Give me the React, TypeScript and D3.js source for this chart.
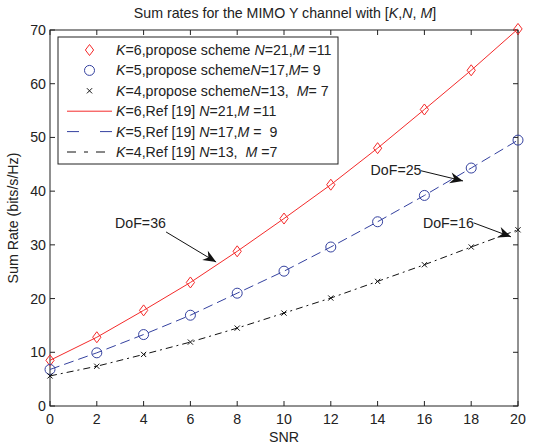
import React from "react";
import * as d3 from "d3";

const snr = [0, 2, 4, 6, 8, 10, 12, 14, 16, 18, 20];
const k6 = [8.5, 12.8, 17.8, 23.0, 28.8, 34.9, 41.2, 48.0, 55.2, 62.5, 70.2];
const k5 = [6.8, 9.9, 13.3, 16.9, 21.0, 25.1, 29.6, 34.3, 39.2, 44.3, 49.5];
const k4 = [5.6, 7.4, 9.6, 11.9, 14.5, 17.3, 20.1, 23.2, 26.3, 29.6, 32.8];
const xTicks = [0, 2, 4, 6, 8, 10, 12, 14, 16, 18, 20];
const yTicks = [0, 10, 20, 30, 40, 50, 60, 70];

// annotations in data units
const annLabels = ["DoF=36", "DoF=25", "DoF=16"];
const annText = [[2.78, 34.1], [13.7, 43.9], [15.94, 34.1]];
const annStart = [[4.96, 32.4], [15.85, 43.8], [18.1, 34.1]];
const annTip = [[7.1, 26.8], [17.65, 41.9], [19.7, 31.5]];

const RED = "#f42a2a";
const BLUE = "#34419f";
const BLACK = "#111";
const FONT = "'Liberation Sans', Arial, Helvetica, sans-serif";
const FS = 14.2;

export default function App() {
  const W = 534, H = 445;
  const left = 50, right = 518, top = 30, bottom = 406;
  const x = d3.scaleLinear().domain([0, 20]).range([left, right]);
  const y = d3.scaleLinear().domain([0, 70]).range([bottom, top]);
  const line = d3.line<number>().x((_, i) => x(snr[i])).y((d) => y(d));

  const diamond = (cx: number, cy: number, r = 5.5) =>
    `M${cx},${cy - r}L${cx + r * 0.75},${cy}L${cx},${cy + r}L${cx - r * 0.75},${cy}Z`;
  const cross = (cx: number, cy: number, r = 2.6) =>
    `M${cx - r},${cy - r}L${cx + r},${cy + r}M${cx - r},${cy + r}L${cx + r},${cy - r}`;

  const arrowHead = (x1: number, y1: number, x2: number, y2: number) => {
    const ang = Math.atan2(y2 - y1, x2 - x1);
    const L = 13, Wd = 5.5, back = 9;
    const ux = Math.cos(ang), uy = Math.sin(ang);
    const px = -uy, py = ux;
    const bx = x2 - ux * L, by = y2 - uy * L;
    const nx = x2 - ux * back, ny = y2 - uy * back;
    return `M${x2},${y2}L${bx + px * Wd},${by + py * Wd}L${nx},${ny}L${bx - px * Wd},${by - py * Wd}Z`;
  };

  const legendX = 58, legendY = 37, legendW = 280, legendH = 127;
  const rowY = (i: number) => legendY + 13 + i * 20.4;
  const symX1 = 67, symX2 = 112, symC = 89.5, txtX = 116;

  const it = (s: string) => <tspan fontStyle="italic">{s}</tspan>;
  const lt = (i: number, content: React.ReactNode) => (
    <text x={txtX} y={rowY(i) + 5} fontSize={FS} fontFamily={FONT} fill="#222" xmlSpace="preserve" style={{ whiteSpace: "pre" }}>
      {content}
    </text>
  );

  return (
    <svg width={W} height={H} style={{ position: "absolute", left: 0, top: 0, background: "#fff" }} fontFamily={FONT}>
      <rect x={0} y={0} width={W} height={H} fill="#fff" />
      <text x={285} y={18} fontSize={FS} textAnchor="middle" fill="#222">
        Sum rates for the MIMO Y channel with [{it("K")},{it("N")}, {it("M")}]
      </text>

      <rect x={left} y={top} width={right - left} height={bottom - top} fill="none" stroke="#222" strokeWidth={1} />
      {xTicks.map((t) => (
        <g key={"xt" + t}>
          <line x1={x(t)} x2={x(t)} y1={bottom} y2={bottom - 5} stroke="#222" />
          <line x1={x(t)} x2={x(t)} y1={top} y2={top + 5} stroke="#222" />
          <text x={x(t)} y={bottom + 18} fontSize={FS} textAnchor="middle" fill="#222">{t}</text>
        </g>
      ))}
      {yTicks.map((t) => (
        <g key={"yt" + t}>
          <line x1={left} x2={left + 5} y1={y(t)} y2={y(t)} stroke="#222" />
          <line x1={right} x2={right - 5} y1={y(t)} y2={y(t)} stroke="#222" />
          <text x={left - 4} y={y(t) + 5} fontSize={FS} textAnchor="end" fill="#222">{t}</text>
        </g>
      ))}
      <text x={284} y={442} fontSize={FS} textAnchor="middle" fill="#222">SNR</text>
      <text transform={`translate(18,${(top + bottom) / 2}) rotate(-90)`} fontSize={FS} textAnchor="middle" fill="#222">
        Sum Rate (bits/s/Hz)
      </text>

      <path d={line(k6) || ""} fill="none" stroke={RED} strokeWidth={1} />
      <path d={line(k5) || ""} fill="none" stroke={BLUE} strokeWidth={1} strokeDasharray="10,5" />
      <path d={line(k4) || ""} fill="none" stroke={BLACK} strokeWidth={1} strokeDasharray="7,4,2,4" />

      {k6.map((v, i) => (
        <path key={"d" + i} d={diamond(x(snr[i]), y(v))} fill="none" stroke={RED} strokeWidth={1} />
      ))}
      {k5.map((v, i) => (
        <circle key={"c" + i} cx={x(snr[i])} cy={y(v)} r={5} fill="none" stroke={BLUE} strokeWidth={1} />
      ))}
      {k4.map((v, i) => (
        <path key={"x" + i} d={cross(x(snr[i]), y(v))} fill="none" stroke={BLACK} strokeWidth={1} />
      ))}

      {annLabels.map((lab, i) => {
        const sx = x(annStart[i][0]), sy = y(annStart[i][1]);
        const tx = x(annTip[i][0]), ty = y(annTip[i][1]);
        return (
          <g key={"a" + i}>
            <text x={x(annText[i][0])} y={y(annText[i][1]) + 5} fontSize={FS} fill="#222">{lab}</text>
            <line x1={sx} y1={sy} x2={tx} y2={ty} stroke="#111" strokeWidth={1} />
            <path d={arrowHead(sx, sy, tx, ty)} fill="#111" />
          </g>
        );
      })}

      <rect x={legendX} y={legendY} width={legendW} height={legendH} fill="#fff" stroke="#222" strokeWidth={1} />
      <path d={diamond(symC, rowY(0))} fill="none" stroke={RED} />
      <circle cx={symC} cy={rowY(1)} r={5} fill="none" stroke={BLUE} />
      <path d={cross(symC, rowY(2))} fill="none" stroke={BLACK} />
      <line x1={symX1} x2={symX2} y1={rowY(3)} y2={rowY(3)} stroke={RED} />
      <line x1={symX1} x2={symX2} y1={rowY(4)} y2={rowY(4)} stroke={BLUE} strokeDasharray="12,21" />
      <line x1={symX1} x2={symX2} y1={rowY(5)} y2={rowY(5)} stroke={BLACK} strokeDasharray="9,8,4,8" />
      {lt(0, <>{it("K")}=6,propose scheme {it("N")}=21,{it("M")} =11</>)}
      {lt(1, <>{it("K")}=5,propose scheme{it("N")}=17,{it("M")}= 9</>)}
      {lt(2, <>{it("K")}=4,propose scheme{it("N")}=13,  {it("M")}= 7</>)}
      {lt(3, <>{it("K")}=6,Ref [19] {it("N")}=21,{it("M")} =11</>)}
      {lt(4, <>{it("K")}=5,Ref [19] {it("N")}=17,{it("M")} =  9</>)}
      {lt(5, <>{it("K")}=4,Ref [19] {it("N")}=13,  {it("M")} =7</>)}
    </svg>
  );
}
